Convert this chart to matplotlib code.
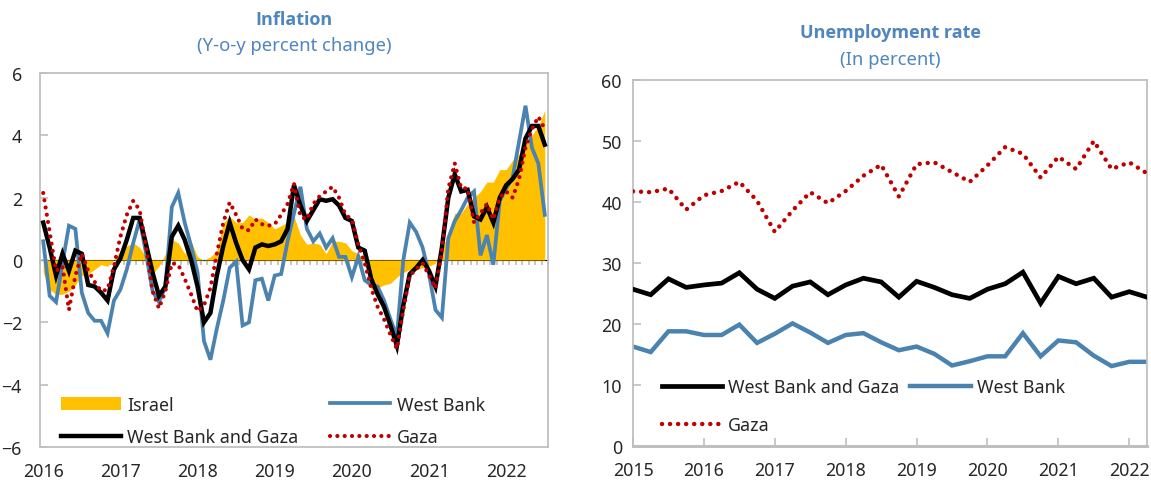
import numpy as np
import matplotlib
matplotlib.use("Agg")
import matplotlib.pyplot as plt
from matplotlib.patches import Patch
from matplotlib.lines import Line2D

plt.rcParams['font.family'] = ['Noto Sans', 'DejaVu Sans']

# ---------------- Inflation (monthly, Jan 2016 - Jul 2022) ----------------
israel = [-0.4, -0.95, -1.1, -1.1, -1.0, -0.8, -0.5, -0.45, -0.3, -0.15, -0.2, 0.0,
          0.3, 0.45, 0.55, 0.4, 0.1, -0.45, -0.2, 0.2, 0.65, 0.55, 0.2, 0.6,
          0.1, 0.0, 0.1, 0.3, 1.2, 1.4, 1.2, 1.2, 1.45, 1.3, 1.35, 1.2,
          1.0, 1.1, 1.2, 1.4, 0.8, 0.5, 0.55, 0.5, 0.2, 0.6, 0.6, 0.55,
          0.3, 0.2, 0.0, -0.95, -0.9, -0.8, -0.75, -0.55, -0.4, -0.3, -0.3, -0.25,
          -0.2, -0.1, 0.3, 0.9, 1.5, 1.5, 1.8, 2.0, 2.2, 2.5, 2.5, 2.9,
          2.9, 3.2, 3.4, 3.7, 4.0, 4.3, 4.8]
west_bank = [0.6, -1.15, -1.35, -0.1, 1.1, 1.0, -1.05, -1.7, -1.95, -1.95, -2.35, -1.3,
             -0.95, -0.3, 0.55, 1.3, 0.2, -1.0, -1.35, -0.85, 1.7, 2.15, 1.2, 0.45,
             -0.4, -2.6, -3.2, -2.2, -1.3, -0.25, -0.05, -2.1, -2.0, -0.65, -0.6, -1.3,
             -0.5, -0.45, 0.6, 1.5, 2.35, 1.0, 0.6, 0.85, 0.4, 0.7, 0.1, 0.1,
             -0.55, 0.1, -0.65, -0.8, -0.85, -1.3, -1.9, -2.45, 0.0, 1.2, 0.9, 0.4,
             -0.45, -1.6, -1.85, 0.7, 1.25, 1.6, 2.0, 2.2, 0.15, 0.8, -0.15, 1.9,
             2.3, 2.65, 3.8, 4.95, 3.6, 3.1, 1.45]
wbg_infl = [1.2, 0.4, -0.5, 0.2, -0.35, 0.3, 0.2, -0.8, -0.85, -1.05, -1.3, -0.3,
            0.05, 0.65, 1.35, 1.35, 0.5, -0.4, -1.15, -0.85, 0.75, 1.1, 0.65, 0.0,
            -0.85, -2.0, -1.7, -0.5, 0.45, 1.2, 0.55, 0.0, -0.3, 0.4, 0.5, 0.45,
            0.5, 0.6, 1.0, 2.4, 1.75, 1.25, 1.6, 1.95, 1.9, 1.95, 1.75, 1.35,
            1.25, 0.4, 0.3, -0.6, -1.1, -1.5, -2.1, -2.75, -1.45, -0.45, -0.25, 0.0,
            -0.35, -0.85, 0.4, 2.0, 2.75, 2.2, 2.25, 1.4, 1.3, 1.7, 1.2, 2.0,
            2.4, 2.6, 2.9, 3.9, 4.3, 4.3, 3.7]
gaza_infl = [2.15, 0.9, -0.35, -0.2, -1.6, -0.5, 0.2, -0.35, -0.7, -1.0, -0.95, -0.2,
             0.75, 1.45, 1.9, 1.6, 0.4, -1.0, -1.55, -1.0, -0.1, -0.15, -0.6, -1.1,
             -1.65, -1.45, -0.9, 0.2, 1.2, 1.85, 1.45, 1.0, 0.95, 1.3, 1.15, 1.1,
             1.15, 1.45, 1.8, 2.45, 1.4, 1.3, 1.8, 2.05, 2.2, 2.35, 2.0, 1.45,
             1.3, 0.5, -0.1, -0.9, -1.5, -1.9, -2.4, -2.85, -1.6, -0.5, -0.3, -0.1,
             -0.5, -0.9, 0.3, 2.3, 3.1, 2.3, 2.3, 1.2, 1.5, 1.8, 1.3, 2.0,
             2.2, 2.0, 2.6, 3.6, 4.2, 4.6, 4.2]
infl_years = ['2016', '2017', '2018', '2019', '2020', '2021', '2022']

# ---------------- Unemployment (quarterly, 2015Q1 - 2022Q2) ----------------
unemp_start = 2015
wbg_unemp = [25.7, 24.8, 27.4, 26.0, 26.4, 26.7, 28.4, 25.7, 24.2, 26.2, 26.9, 24.8,
             26.4, 27.5, 26.9, 24.4, 27.0, 26.0, 24.8, 24.2, 25.7, 26.6, 28.5, 23.4,
             27.8, 26.6, 27.5, 24.4, 25.3, 24.4]
wb_unemp = [16.3, 15.4, 18.8, 18.8, 18.2, 18.2, 19.9, 16.9, 18.4, 20.1, 18.6, 16.9,
            18.2, 18.5, 17.0, 15.7, 16.3, 15.1, 13.2, 13.9, 14.7, 14.7, 18.5, 14.7,
            17.3, 17.0, 14.8, 13.1, 13.8, 13.8]
gaza_unemp = [41.75, 41.6, 42.2, 38.75, 41.1, 41.8, 43.3, 40.2, 35.1, 38.6, 41.6, 39.8,
              41.8, 44.3, 46.1, 40.9, 46.2, 46.5, 44.9, 43.3, 46.0, 49.0, 47.9, 44.0,
              47.4, 45.4, 50.0, 45.4, 46.5, 44.7]
unemp_years = list(range(2015, 2023))

YELLOW = '#FFC000'
BLUE = '#4A82B0'
RED = '#C00000'
GRID = '#BFBFBF'
TITLE = '#4F86BE'
TXT = '#262626'
BOLD_FAMILY = ['Open Sans', 'Lato', 'DejaVu Sans']

fig = plt.figure(figsize=(11.51, 4.89), dpi=100)
fs = 12.8

# ---------------- Left panel ----------------
ax1 = fig.add_axes([40/1151, 1-448/489, 508/1151, 374/489])
x = np.arange(len(israel))
ax1.fill_between(x, 0, israel, color=YELLOW, linewidth=0, zorder=1)
ax1.plot(x, west_bank, color=BLUE, lw=2.7, zorder=2, solid_joinstyle='miter')
ax1.plot(x, wbg_infl, color='black', lw=3.2, zorder=3, solid_joinstyle='miter')
ax1.plot(x, gaza_infl, color=RED, lw=3.0, linestyle=(0, (0.01, 1.75)),
         dash_capstyle='round', zorder=4)
ax1.set_xlim(-0.5, len(israel) - 0.5)
ax1.set_ylim(-6, 6)
ax1.set_yticks(range(-6, 7, 2))
ax1.set_xticks(np.arange(0, len(israel), 12))
ax1.set_xticklabels(infl_years)
ax1.tick_params(axis='x', length=0, pad=11, labelsize=fs, labelcolor=TXT)
ax1.tick_params(axis='y', direction='in', length=6, width=1.2, color=GRID,
                pad=13, labelsize=fs, labelcolor=TXT)
for s in ax1.spines.values():
    s.set_color(GRID)
    s.set_linewidth(1.3)
sec = ax1.secondary_xaxis(0.5)
sec.set_xticks(np.arange(-0.5, len(israel), 1.0))
sec.set_xticklabels([])
sec.tick_params(axis='x', direction='in', length=3.5, width=1.2, color=GRID)
sec.spines['bottom'].set_color(GRID)
sec.spines['bottom'].set_linewidth(2.2)
sec.set_zorder(0.5)

h1 = [Patch(facecolor=YELLOW, edgecolor='none', label='Israel'),
      Line2D([], [], color='black', lw=3.2, label='West Bank and Gaza'),
      Line2D([], [], color=BLUE, lw=2.7, label='West Bank'),
      Line2D([], [], color=RED, lw=3.0, linestyle=(0, (0.01, 1.75)),
             dash_capstyle='round', label='Gaza')]
leg1 = ax1.legend(handles=h1, ncol=2, loc='lower left', bbox_to_anchor=(0.02, -0.026),
                  frameon=False, fontsize=fs, handlelength=3.4, handleheight=0.8,
                  columnspacing=1.75, handletextpad=0.35, labelspacing=0.8,
                  borderaxespad=0.2)
for t in leg1.get_texts():
    t.set_color(TXT)

fig.text(294/1151, 1-20/489, 'Inflation', ha='center', va='center',
         fontsize=13, fontweight='bold', color=TITLE, family=BOLD_FAMILY)
fig.text(294/1151, 1-46/489, '(Y-o-y percent change)', ha='center', va='center',
         fontsize=13.3, color=TITLE)

# ---------------- Right panel ----------------
ax2 = fig.add_axes([633/1151, 1-447/489, 514/1151, 366/489])
xq = unemp_start + np.arange(len(wbg_unemp)) / 4.0
ax2.plot(xq, wb_unemp, color=BLUE, lw=3.2, zorder=2, solid_joinstyle='miter')
ax2.plot(xq, wbg_unemp, color='black', lw=3.4, zorder=3, solid_joinstyle='miter')
ax2.plot(xq, gaza_unemp, color=RED, lw=3.2, linestyle=(0, (0.01, 1.8)),
         dash_capstyle='round', zorder=4)
ax2.set_xlim(xq[0], xq[-1])
ax2.set_ylim(0, 60)
ax2.set_yticks(range(0, 61, 10))
ax2.set_xticks(unemp_years)
ax2.set_xticklabels([str(y) for y in unemp_years])
ax2.tick_params(axis='x', direction='in', length=6, width=1.2, color=GRID,
                pad=11, labelsize=fs, labelcolor=TXT)
ax2.tick_params(axis='y', direction='in', length=6, width=1.2, color=GRID,
                pad=8, labelsize=fs, labelcolor=TXT)
for s in ax2.spines.values():
    s.set_color(GRID)
    s.set_linewidth(1.3)
ax2.spines['bottom'].set_linewidth(2.2)

h2 = [Line2D([], [], color='black', lw=3.4, label='West Bank and Gaza'),
      Line2D([], [], color=RED, lw=3.2, linestyle=(0, (0.01, 1.8)),
             dash_capstyle='round', label='Gaza'),
      Line2D([], [], color=BLUE, lw=3.2, label='West Bank')]
leg2 = ax2.legend(handles=h2, ncol=2, loc='lower left', bbox_to_anchor=(0.035, 0.004),
                  frameon=False, fontsize=fs, handlelength=3.4,
                  columnspacing=0.6, handletextpad=0.35, labelspacing=1.1,
                  borderaxespad=0.2)
for t in leg2.get_texts():
    t.set_color(TXT)

fig.text(890/1151, 1-33/489, 'Unemployment rate', ha='center', va='center',
         fontsize=13, fontweight='bold', color=TITLE, family=BOLD_FAMILY)
fig.text(890/1151, 1-60/489, '(In percent)', ha='center', va='center',
         fontsize=13.3, color=TITLE)

fig.savefig('out.png', dpi=100)
